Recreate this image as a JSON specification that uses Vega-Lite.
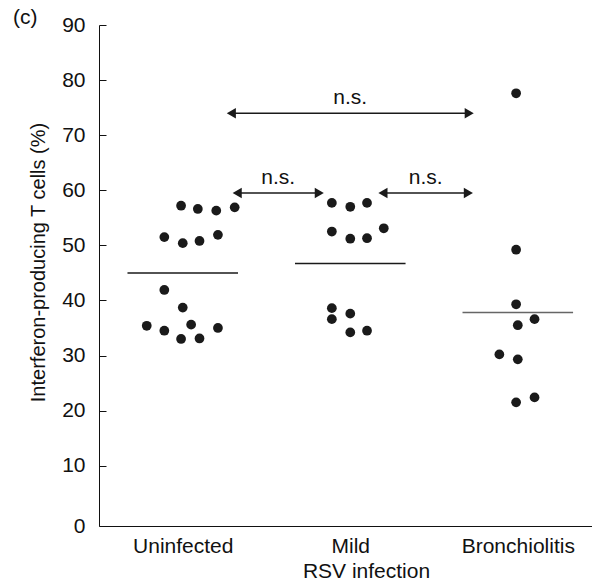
{
  "$schema": "https://vega.github.io/schema/vega-lite/v6.json",
  "autosize": "none",
  "width": 493,
  "height": 501,
  "padding": {"left": 99, "top": 25, "right": 0, "bottom": 59},
  "background": "white",
  "title": {"text": "(c)", "anchor": "start", "frame": "group", "dx": -86, "offset": -31, "baseline": "alphabetic", "fontSize": 21, "fontWeight": "normal", "font": "Liberation Sans", "color": "#111"},
  "config": {
    "view": {"stroke": null},
    "font": "Liberation Sans",
    "axis": {"labelFont": "Liberation Sans", "titleFont": "Liberation Sans", "labelColor": "#111", "titleColor": "#111", "domainColor": "#111", "tickColor": "#111", "grid": false, "labelFontSize": 21, "titleFontSize": 21, "titleFontWeight": "normal"}
  },
  "datasets": {
    "pts": [
      {"group": "Uninfected", "x": 0.99, "pct": 57.2},
      {"group": "Uninfected", "x": 1.09, "pct": 56.6},
      {"group": "Uninfected", "x": 1.20, "pct": 56.3},
      {"group": "Uninfected", "x": 1.31, "pct": 56.9},
      {"group": "Uninfected", "x": 0.89, "pct": 51.5},
      {"group": "Uninfected", "x": 1.00, "pct": 50.4},
      {"group": "Uninfected", "x": 1.10, "pct": 50.8},
      {"group": "Uninfected", "x": 1.21, "pct": 51.9},
      {"group": "Uninfected", "x": 0.89, "pct": 41.9},
      {"group": "Uninfected", "x": 1.00, "pct": 38.7},
      {"group": "Uninfected", "x": 0.785, "pct": 35.4},
      {"group": "Uninfected", "x": 0.89, "pct": 34.5},
      {"group": "Uninfected", "x": 1.05, "pct": 35.6},
      {"group": "Uninfected", "x": 1.21, "pct": 35.0},
      {"group": "Uninfected", "x": 0.99, "pct": 33.0},
      {"group": "Uninfected", "x": 1.10, "pct": 33.1},
      {"group": "Mild", "x": 1.89, "pct": 57.7},
      {"group": "Mild", "x": 2.00, "pct": 57.0},
      {"group": "Mild", "x": 2.10, "pct": 57.7},
      {"group": "Mild", "x": 1.89, "pct": 52.5},
      {"group": "Mild", "x": 2.00, "pct": 51.2},
      {"group": "Mild", "x": 2.10, "pct": 51.3},
      {"group": "Mild", "x": 2.20, "pct": 53.1},
      {"group": "Mild", "x": 1.89, "pct": 38.6},
      {"group": "Mild", "x": 2.00, "pct": 37.6},
      {"group": "Mild", "x": 1.89, "pct": 36.6},
      {"group": "Mild", "x": 2.00, "pct": 34.2},
      {"group": "Mild", "x": 2.10, "pct": 34.5},
      {"group": "Bronchiolitis", "x": 2.99, "pct": 77.6},
      {"group": "Bronchiolitis", "x": 2.99, "pct": 49.2},
      {"group": "Bronchiolitis", "x": 2.99, "pct": 39.3},
      {"group": "Bronchiolitis", "x": 3.00, "pct": 35.5},
      {"group": "Bronchiolitis", "x": 3.10, "pct": 36.6},
      {"group": "Bronchiolitis", "x": 2.89, "pct": 30.2},
      {"group": "Bronchiolitis", "x": 3.00, "pct": 29.3},
      {"group": "Bronchiolitis", "x": 2.99, "pct": 21.5},
      {"group": "Bronchiolitis", "x": 3.10, "pct": 22.4}
    ],
    "means": [
      {"group": "Uninfected", "from": 0.67, "to": 1.33, "mean": 45.0},
      {"group": "Mild", "from": 1.67, "to": 2.33, "mean": 46.7},
      {"group": "Bronchiolitis", "from": 2.67, "to": 3.33, "mean": 37.8}
    ],
    "arrows": [
      {"from": 1.29, "to": 2.71, "y": 74.0, "mid": 2.0, "label": "n.s."},
      {"from": 1.325, "to": 1.815, "y": 59.5, "mid": 1.57, "label": "n.s."},
      {"from": 2.195, "to": 2.705, "y": 59.5, "mid": 2.45, "label": "n.s."}
    ]
  },
  "layer": [
    {
      "data": {"name": "means"},
      "mark": {"type": "rule", "strokeWidth": 1.5},
      "encoding": {
        "x": {"field": "from", "type": "quantitative", "scale": {"domain": [0.5, 3.443], "nice": false, "zero": false},
          "axis": {"values": [1, 2, 3], "labelExpr": "datum.value == 1 ? 'Uninfected' : datum.value == 2 ? 'Mild' : 'Bronchiolitis'", "ticks": false, "labelPadding": 9, "title": "RSV infection", "titlePadding": 4, "titleX": 267}},
        "x2": {"field": "to"},
        "y": {"field": "mean", "type": "quantitative", "scale": {"domain": [-0.95, 90], "nice": false, "zero": false},
          "axis": {"values": [-0.95, 10, 20, 30, 40, 50, 60, 70, 80, 90], "labelExpr": "datum.value < 0 ? '0' : datum.label", "tickSize": -7, "labelPadding": 21, "title": "Interferon-producing T cells (%)", "titleFontSize": 20, "titlePadding": 13, "titleY": 237}},
        "color": {"field": "group", "type": "nominal", "scale": {"domain": ["Uninfected", "Mild", "Bronchiolitis"], "range": ["#1a1a1a", "#1a1a1a", "#666666"]}, "legend": null}
      }
    },
    {
      "data": {"name": "arrows"},
      "mark": {"type": "rule", "strokeWidth": 1.5, "color": "#1a1a1a"},
      "encoding": {
        "x": {"field": "from", "type": "quantitative"},
        "x2": {"field": "to"},
        "y": {"field": "y", "type": "quantitative"}
      }
    },
    {
      "data": {"name": "arrows"},
      "mark": {"type": "point", "shape": "triangle-left", "filled": true, "size": 110, "color": "#1a1a1a", "opacity": 1},
      "encoding": {
        "x": {"field": "from", "type": "quantitative"},
        "y": {"field": "y", "type": "quantitative"}
      }
    },
    {
      "data": {"name": "arrows"},
      "mark": {"type": "point", "shape": "triangle-right", "filled": true, "size": 110, "color": "#1a1a1a", "opacity": 1},
      "encoding": {
        "x": {"field": "to", "type": "quantitative"},
        "y": {"field": "y", "type": "quantitative"}
      }
    },
    {
      "data": {"name": "arrows"},
      "mark": {"type": "text", "baseline": "bottom", "dy": -5, "fontSize": 21, "color": "#111", "font": "Liberation Sans"},
      "encoding": {
        "x": {"field": "mid", "type": "quantitative"},
        "y": {"field": "y", "type": "quantitative"},
        "text": {"field": "label"}
      }
    },
    {
      "data": {"name": "pts"},
      "mark": {"type": "circle", "size": 95, "color": "#1a1a1a", "opacity": 1},
      "encoding": {
        "x": {"field": "x", "type": "quantitative"},
        "y": {"field": "pct", "type": "quantitative"}
      }
    }
  ]
}
